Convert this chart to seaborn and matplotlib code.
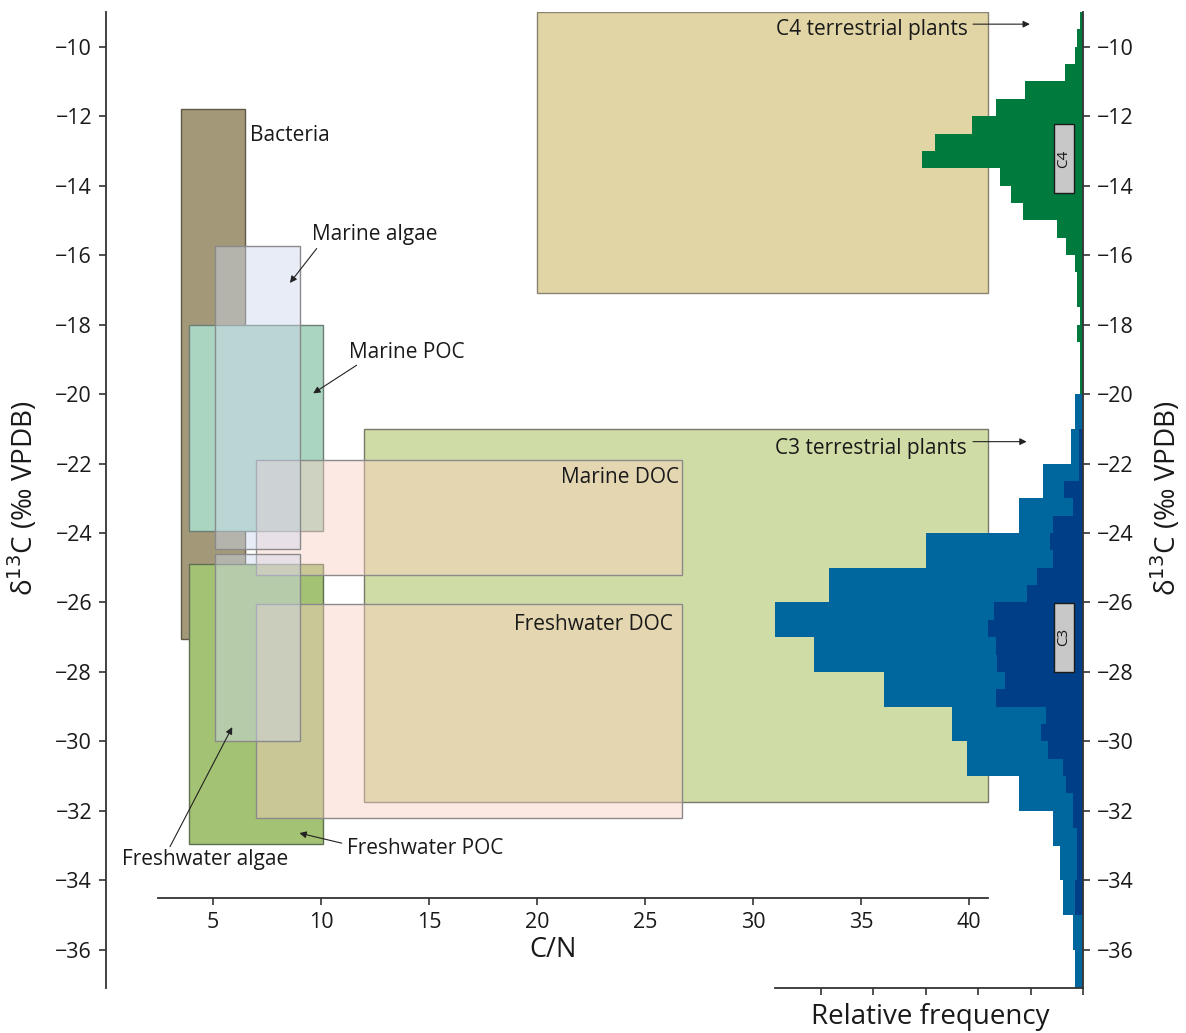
import numpy as np
import pandas as pd
import seaborn as sns
import matplotlib.pyplot as plt
from matplotlib.patches import Rectangle

sns.set_theme(style="white")
plt.rcParams['font.family'] = ['Open Sans', 'DejaVu Sans']
plt.rcParams['axes.unicode_minus'] = True

# ---------------- data ----------------
# source boxes: C/N range and d13C range
box_names = ["Bacteria", "C4 terrestrial plants", "C3 terrestrial plants",
             "Marine POC", "Freshwater POC", "Marine DOC", "Freshwater DOC",
             "Marine algae", "Freshwater algae"]
box_cn_min = [3.5, 20.0, 12.0, 3.9, 3.9, 7.0, 7.0, 5.1, 5.1]
box_cn_max = [6.5, 40.9, 40.9, 10.1, 10.1, 26.7, 26.7, 9.05, 9.05]
box_d13c_top = [-11.8, -9.0, -21.0, -18.0, -24.9, -21.9, -26.05, -15.75, -24.6]
box_d13c_bot = [-27.05, -17.1, -31.75, -23.95, -32.95, -25.2, -32.2, -24.45, -30.0]

# histogram of C4 plants (0.5 permil bins, from -9 downward)
c4_bin_top = -9.0
c4_freq = [0.05, 0.115, 0.15, 0.35, 1.10, 1.66, 2.12, 2.82, 3.06, 1.59, 1.37, 1.15,
           0.50, 0.33, 0.16, 0.12, 0.12, 0.065, 0.12, 0.065, 0.06, 0.06]
# histogram of C3 plants, all (1 permil bins, from -20 downward)
c3_bin_top = -20.0
c3_freq = [0.153, 0.235, 0.76, 1.22, 3.0, 4.85, 5.89, 5.13, 3.80, 2.50, 2.21, 1.22,
           0.57, 0.44, 0.39, 0.185, 0.147, 0.147]
# histogram of C3 subset (0.5 permil bins, from -21 downward)
c3s_bin_top = -21.0
c3s_freq = [0.07, 0.07, 0.07, 0.36, 0.185, 0.57, 0.63, 0.57, 0.87, 1.07, 1.69, 1.82,
            1.66, 1.64, 1.49, 1.66, 0.71, 0.80, 0.66, 0.39, 0.32, 0.20, 0.20, 0.12,
            0.12, 0.12, 0.15, 0.15]

cn_ticks = [5, 10, 15, 20, 25, 30, 35, 40]
d13c_ticks = [-36, -34, -32, -30, -28, -26, -24, -22, -20, -18, -16, -14, -12, -10]

# ---------------- styles ----------------
box_face = ["#a39979", "#e1d5a5", "#d0dca5", "#a9d5c1", "#a3c273",
            "#fbcfc1", "#fbcfc1", "#cdd6ec", "#cdd6ec"]
box_alpha = [1, 1, 1, 1, 1, 0.45, 0.45, 0.45, 0.45]
box_edge = ["#5e5846", "#8a8270", "#77776a", "#6e7e74", "#5e6e52",
            "#8a8a8a", "#8a8a8a", "#8a8a8a", "#8a8a8a"]
box_z = [1, 1, 1, 2, 2, 3, 3, 4, 4]

W, H = 1186, 1033
fig = plt.figure(figsize=(W / 100, H / 100), dpi=100)
ax = fig.add_axes([106 / W, (H - 988) / H, (1083 - 106) / W, (988 - 12) / H])
axh = fig.add_axes([775 / W, (H - 988) / H, (1083 - 775) / W, (988 - 12) / H])
axh.patch.set_visible(False)
axh.set_zorder(ax.get_zorder() + 1)

ylim = (-37.1, -9.0)
ax.set_xlim(0.046, 45.28)
ax.set_ylim(*ylim)

for i in range(len(box_names)):
    ax.add_patch(Rectangle((box_cn_min[i], box_d13c_bot[i]),
                           box_cn_max[i] - box_cn_min[i],
                           box_d13c_top[i] - box_d13c_bot[i],
                           facecolor=box_face[i], alpha=box_alpha[i], edgecolor='none',
                           zorder=box_z[i]))
    ax.add_patch(Rectangle((box_cn_min[i], box_d13c_bot[i]),
                           box_cn_max[i] - box_cn_min[i],
                           box_d13c_top[i] - box_d13c_bot[i],
                           facecolor='none', edgecolor=box_edge[i],
                           lw=1.0, zorder=box_z[i]))

txt_kw = dict(fontsize=15, color='#1a1a1a', zorder=10)
ax.text(6.71, -12.55, "Bacteria", ha='left', va='center', **txt_kw)
ax.text(9.58, -15.40, "Marine algae", ha='left', va='center', **txt_kw)
ax.text(11.30, -18.79, "Marine POC", ha='left', va='center', **txt_kw)
ax.text(0.77, -33.41, "Freshwater algae", ha='left', va='center', **txt_kw)
ax.text(11.19, -33.07, "Freshwater POC", ha='left', va='center', **txt_kw)
ax.text(26.57, -22.40, "Marine DOC", ha='right', va='center', **txt_kw)
ax.text(26.28, -26.64, "Freshwater DOC", ha='right', va='center', **txt_kw)
ax.text(39.94, -9.50, "C4 terrestrial plants", ha='right', va='center', **txt_kw)
ax.text(39.92, -21.56, "C3 terrestrial plants", ha='right', va='center', **txt_kw)

arrow_kw = dict(arrowstyle='-|>', color='#222222', lw=0.8, mutation_scale=10,
                shrinkA=0, shrinkB=0)
arrows = [((9.80, -15.81), (8.56, -16.80)),
          ((11.65, -19.17), (9.64, -19.98)),
          ((3.01, -33.03), (5.89, -29.59)),
          ((10.96, -32.93), (9.00, -32.64)),
          ((40.19, -9.35), (42.82, -9.35)),
          ((40.19, -21.37), (42.67, -21.37))]
for s, e in arrows:
    ax.annotate('', xy=e, xytext=s, arrowprops=arrow_kw, zorder=10,
                annotation_clip=False)

# main axes styling
spine_c = '#333333'
for sp in ['top', 'right']:
    ax.spines[sp].set_visible(False)
for sp in ['left', 'bottom']:
    ax.spines[sp].set_color(spine_c)
    ax.spines[sp].set_linewidth(1.3)
ax.spines['bottom'].set_position(('data', -34.5))
ax.spines['bottom'].set_bounds(2.45, 40.9)
ax.set_xticks(cn_ticks)
ax.set_yticks(d13c_ticks)
ax.tick_params(axis='both', direction='out', length=5, width=1.2, color=spine_c,
               labelsize=15.5, labelcolor='#1a1a1a', pad=5, bottom=True, left=True)
ax.text(20.74, -36.0, "C/N", ha='center', va='center', fontsize=19.5, color='#1a1a1a')

# histograms
df_c4 = pd.DataFrame({"d13c": c4_bin_top - 0.25 - 0.5 * np.arange(len(c4_freq)),
                      "freq": c4_freq})
df_c3 = pd.DataFrame({"d13c": c3_bin_top - 0.5 - 1.0 * np.arange(len(c3_freq)),
                      "freq": c3_freq})
df_c3s = pd.DataFrame({"d13c": c3s_bin_top - 0.25 - 0.5 * np.arange(len(c3s_freq)),
                       "freq": c3s_freq})

sns.histplot(data=df_c4, y="d13c", weights="freq", binwidth=0.5,
             binrange=(c4_bin_top - 0.5 * len(c4_freq), c4_bin_top), ax=axh,
             color="#007a3d", alpha=1, linewidth=0, stat='count')
sns.histplot(data=df_c3, y="d13c", weights="freq", binwidth=1.0,
             binrange=(c3_bin_top - 1.0 * len(c3_freq), c3_bin_top), ax=axh,
             color="#00679e", alpha=1, linewidth=0, stat='count')
sns.histplot(data=df_c3s, y="d13c", weights="freq", binwidth=0.5,
             binrange=(c3s_bin_top - 0.5 * len(c3s_freq), c3s_bin_top), ax=axh,
             color="#003f87", alpha=1, linewidth=0, stat='count')

axh.set_xlim(5.87, 0)
axh.set_ylim(*ylim)
axh.set_xlabel('')
axh.set_ylabel('')
for sp in ['top', 'left']:
    axh.spines[sp].set_visible(False)
for sp in ['bottom', 'right']:
    axh.spines[sp].set_color(spine_c)
    axh.spines[sp].set_linewidth(1.3)
axh.set_xticks([0, 1, 2, 3, 4, 5])
axh.set_yticks(d13c_ticks)
axh.yaxis.tick_right()
axh.tick_params(axis='y', right=True, left=False, labelright=True, labelleft=False,
                direction='out', length=5, width=1.2, color=spine_c, labelsize=15.5,
                labelcolor='#1a1a1a', pad=5)
axh.tick_params(axis='x', bottom=True, labelbottom=False, direction='out', length=5,
                width=1.2, color=spine_c)

# C4 / C3 label boxes
for lab, top in [("C4", -12.23), ("C3", -26.02)]:
    axh.add_patch(Rectangle((0.171, top - 1.97), 0.381, 1.97, facecolor='#c8c8c8',
                            edgecolor='#1a1a1a', lw=1.0, zorder=5))
    axh.text(0.36, top - 0.985, lab, rotation=90, ha='center', va='center',
             fontsize=11, color='#1a1a1a', zorder=6)

ylab = "δ$^{13}$C (‰ VPDB)"
fig.text(23 / W, 1 - 498 / H, ylab, rotation=90, ha='center', va='center',
         fontsize=20, color='#1a1a1a')
fig.text(1166 / W, 1 - 498 / H, ylab, rotation=90, ha='center', va='center',
         fontsize=20, color='#1a1a1a')
fig.text(930 / W, 1 - 1017 / H, "Relative frequency", ha='center', va='center',
         fontsize=20, color='#1a1a1a')

fig.savefig("out.png", dpi=100, facecolor='white')
